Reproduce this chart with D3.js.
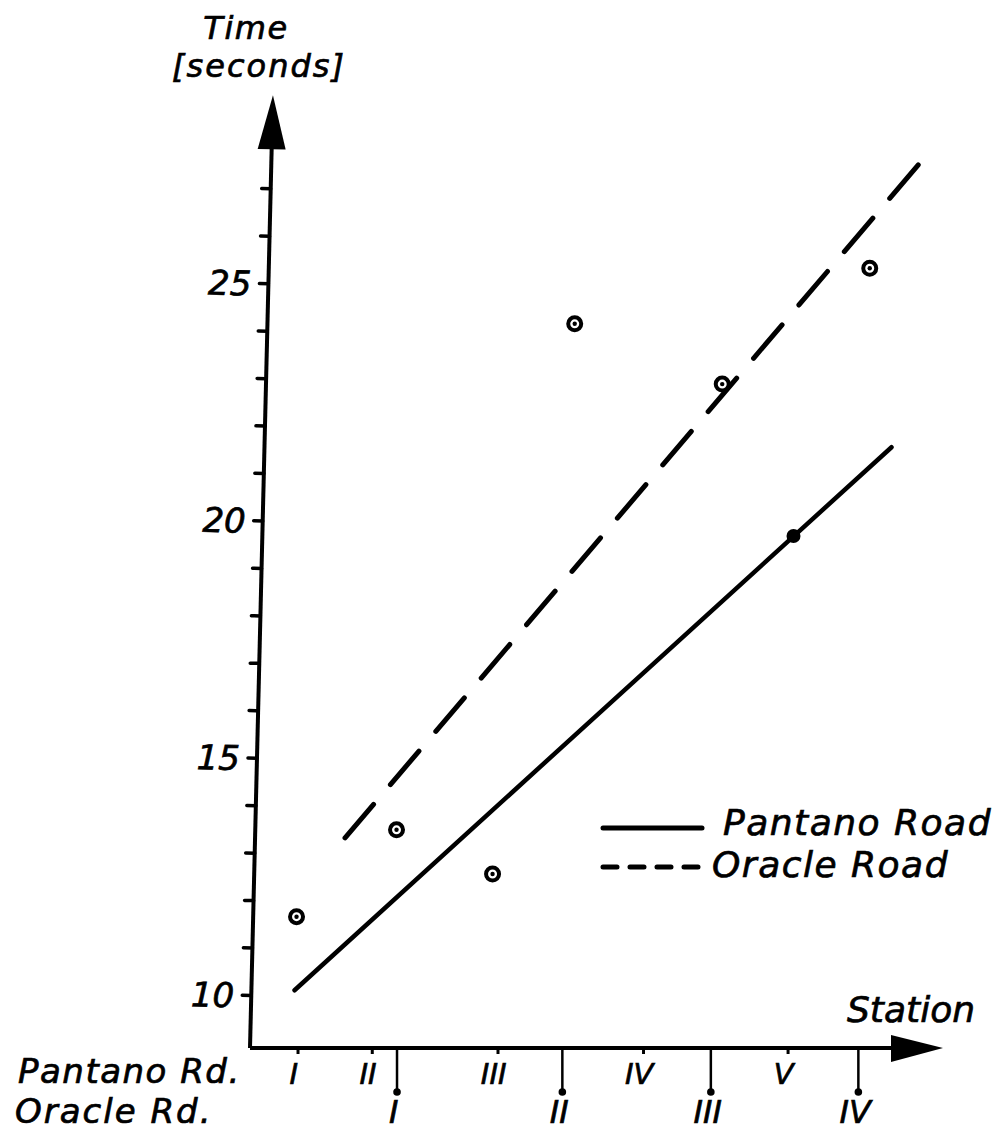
<!DOCTYPE html>
<html>
<head>
<meta charset="utf-8">
<script src="https://cdn.jsdelivr.net/npm/d3@7"></script>
<style>
  body { margin: 0; background: #fff; }
  svg { display: block; }
  text { font-family: "DejaVu Sans", sans-serif; font-style: italic; fill: #000;
         stroke: #000; stroke-width: 0.7px; }
</style>
</head>
<body>
<div id="chart"></div>
<script>
// station positions along the road (distance units)
const pantanoStations = ["I", "II", "III", "IV", "V"];
const pantanoPos = [48, 123, 250, 397, 543];
const oracleStations = ["I", "II", "III", "IV"];
const oraclePos = [148, 315, 465, 614];

const yTickValues = [10, 11, 12, 13, 14, 15, 16, 17, 18, 19, 20, 21, 22, 23, 24, 25, 26, 27];
const yTickLabels = [10, 15, 20, 25];

// observed travel times
const obsX = [47, 148, 245, 328, 477, 626, 549];
const obsTime = [11.65, 13.48, 12.55, 24.14, 22.87, 25.31, 19.67];
const obsFilled = [false, false, false, false, false, false, true];

// fitted lines (end points)
const pantanoLineX = [45, 648];
const pantanoLineT = [10.1, 21.54];
const oracleLineX = [96, 680];
const oracleLineT = [13.31, 27.61];

const seriesNames = ["Pantano Road", "Oracle Road"];

const width = 1003, height = 1132;

const x = d3.scaleLinear().domain([0, 700]).range([250, 943]);
const y = d3.scaleLinear().domain([10, 25]).range([995, 283]);

const x0 = x.range()[0], xEnd = x.range()[1];
const yBase = 1048, yTip = 95;

const svg = d3.select("#chart").append("svg")
    .attr("width", width)
    .attr("height", height);

// ---- y axis (drawn slightly leaning, as in the hand drawing)
const yg = svg.append("g")
    .attr("transform", `rotate(1.38, ${x0}, ${yBase})`);

yg.append("line")
    .attr("x1", x0).attr("x2", x0)
    .attr("y1", yBase).attr("y2", yTip + 50)
    .attr("stroke", "#000").attr("stroke-width", 4);

yg.append("path")
    .attr("d", `M${x0},${yTip} L${x0 - 14},${yTip + 54} L${x0 + 14},${yTip + 54} Z`)
    .attr("fill", "#000");

const yAxis = yg.append("g")
    .attr("transform", `translate(${x0},0)`)
    .call(d3.axisLeft(y)
        .tickValues(yTickValues)
        .tickSize(9)
        .tickPadding(8)
        .tickFormat(d => yTickLabels.includes(d) ? d : ""));
yAxis.select(".domain").remove();
yAxis.selectAll(".tick line")
    .attr("stroke", "#000").attr("stroke-width", 3.5).attr("stroke-linecap", "round");
yAxis.selectAll(".tick text")
    .style("font-family", "'DejaVu Sans', sans-serif")
    .style("font-style", "italic")
    .style("font-size", "34px")
    .attr("dy", "0.36em");

// ---- x axis
svg.append("line")
    .attr("x1", x0).attr("x2", xEnd - 48)
    .attr("y1", yBase).attr("y2", yBase)
    .attr("stroke", "#000").attr("stroke-width", 4);
svg.append("path")
    .attr("d", `M${xEnd},${yBase} L${xEnd - 52},${yBase - 13} L${xEnd - 52},${yBase + 14} Z`)
    .attr("fill", "#000");

const pAxis = svg.append("g")
    .attr("transform", `translate(0,${yBase})`)
    .call(d3.axisBottom(x)
        .tickValues(pantanoPos)
        .tickSize(6)
        .tickPadding(9)
        .tickFormat((d, i) => pantanoStations[i]));
pAxis.select(".domain").remove();
pAxis.selectAll(".tick line").attr("stroke", "#000").attr("stroke-width", 3);
pAxis.selectAll(".tick text")
    .style("font-family", "'DejaVu Sans', sans-serif")
    .style("font-style", "italic")
    .style("font-size", "29px")
    .attr("dx", "-0.15em");

const oAxis = svg.append("g")
    .attr("transform", `translate(0,${yBase})`)
    .call(d3.axisBottom(x)
        .tickValues(oraclePos)
        .tickSize(44)
        .tickPadding(8)
        .tickFormat((d, i) => oracleStations[i]));
oAxis.select(".domain").remove();
oAxis.selectAll(".tick line").attr("stroke", "#000").attr("stroke-width", 2.5);
oAxis.selectAll(".tick").append("circle")
    .attr("cy", 44).attr("r", 3.8).attr("fill", "#000");
oAxis.selectAll(".tick text")
    .style("font-family", "'DejaVu Sans', sans-serif")
    .style("font-style", "italic")
    .style("font-size", "32px")
    .attr("dx", "-0.1em");

// ---- axis titles
svg.append("text").attr("x", 246).attr("y", 39)
    .attr("text-anchor", "middle").style("font-size", "32px")
    .style("letter-spacing", "1.5px")
    .text("Time");
svg.append("text").attr("x", 259).attr("y", 77)
    .attr("text-anchor", "middle").style("font-size", "32px")
    .style("letter-spacing", "2px")
    .text("[seconds]");
svg.append("text").attr("x", 847).attr("y", 1022)
    .style("font-size", "36px")
    .text("Station");
svg.append("text").attr("x", 18).attr("y", 1083)
    .style("font-size", "34px").style("letter-spacing", "1.5px")
    .text("Pantano Rd.");
svg.append("text").attr("x", 15).attr("y", 1123)
    .style("font-size", "34px").style("letter-spacing", "2px")
    .text("Oracle Rd.");

// ---- fitted lines
const line = d3.line().x(d => x(d[0])).y(d => y(d[1]));

svg.append("path")
    .datum(d3.zip(pantanoLineX, pantanoLineT))
    .attr("d", line)
    .attr("fill", "none").attr("stroke", "#000")
    .attr("stroke-width", 4.5).attr("stroke-linecap", "round");

svg.append("path")
    .datum(d3.zip(oracleLineX, oracleLineT))
    .attr("d", line)
    .attr("fill", "none").attr("stroke", "#000")
    .attr("stroke-width", 5).attr("stroke-linecap", "round")
    .attr("stroke-dasharray", "44 26");

// ---- observations
const pts = svg.append("g")
    .selectAll("g")
    .data(d3.range(obsX.length))
    .join("g")
    .attr("transform", i => `translate(${x(obsX[i])},${y(obsTime[i])})`);

pts.filter(i => !obsFilled[i]).append("circle")
    .attr("r", 6.5).attr("fill", "#fff")
    .attr("stroke", "#000").attr("stroke-width", 4);
pts.filter(i => !obsFilled[i]).append("circle")
    .attr("r", 2.2).attr("fill", "#000");
pts.filter(i => obsFilled[i]).append("circle")
    .attr("r", 7).attr("fill", "#000");

// ---- legend
const legend = svg.append("g");
const legendY = [828, 867];
seriesNames.forEach((name, i) => {
    legend.append("line")
        .attr("x1", 603).attr("x2", 702)
        .attr("y1", legendY[i]).attr("y2", legendY[i])
        .attr("stroke", "#000").attr("stroke-width", 5)
        .attr("stroke-linecap", "round")
        .attr("stroke-dasharray", i === 1 ? "14 13" : null);
    legend.append("text")
        .attr("x", i === 0 ? 723 : 712)
        .attr("y", legendY[i] + 7 + (i === 1 ? 3 : 0))
        .style("font-size", "36px")
        .style("letter-spacing", "1.5px")
        .text(name);
});
</script>
</body>
</html>
